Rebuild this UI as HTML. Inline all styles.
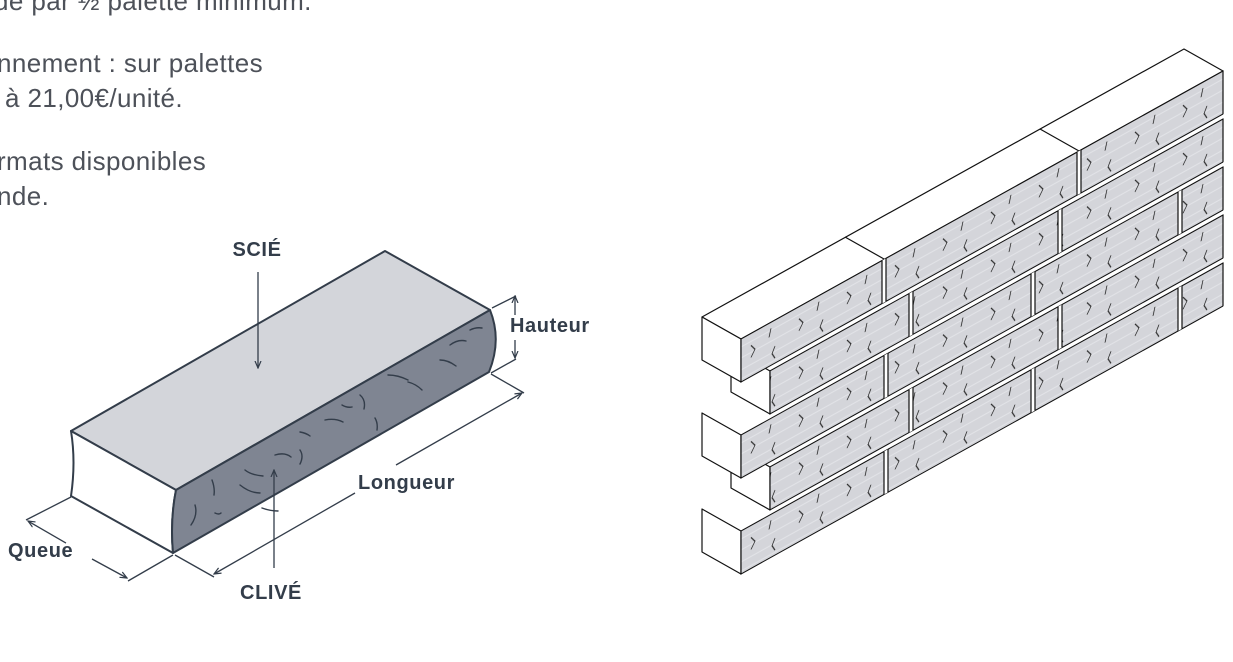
<!DOCTYPE html>
<html><head><meta charset="utf-8"><style>
html,body{margin:0;padding:0;background:#fff;width:1233px;height:662px;overflow:hidden}
svg{position:absolute;left:0;top:0}
</style></head><body>
<svg width="1233" height="662" viewBox="0 0 1233 662" xmlns="http://www.w3.org/2000/svg">
<defs>
<pattern id="tex" patternUnits="userSpaceOnUse" width="48" height="48">
<rect width="48" height="48" fill="#d4d5da"/>
<path d="M0,8h48M0,19h48M0,31h48M0,40h48" stroke="#e2e3e7" stroke-width="1.2"/>
<path d="M10,12l4,6l-4,6" fill="none" stroke="#222" stroke-width="0.9"/>
<path d="M30,6l-2,8M34,26l-3,6l3,6" fill="none" stroke="#222" stroke-width="0.9"/>
</pattern>
<marker id="ah" markerWidth="8" markerHeight="8" refX="7" refY="4" orient="auto" markerUnits="userSpaceOnUse">
<path d="M0,1 L7,4 L0,7" fill="none" stroke="#333d4a" stroke-width="1.2"/>
</marker>
</defs>

<g font-family="Liberation Sans, sans-serif" font-size="26" fill="#4d5159" letter-spacing="0.4">
<text x="-6" y="10">de par ½ palette minimum.</text>
<text x="-3" y="72">nnement : sur palettes</text>
<text x="5" y="107">à 21,00€/unité.</text>
<text x="-3" y="170">rmats disponibles</text>
<text x="-3" y="205">nde.</text>
</g>

<!-- Stone block -->
<g stroke="#333d4a" stroke-width="2" stroke-linejoin="round">
<path d="M71,431 L385,251 L490,310 L176,490 Z" fill="#d3d5da"/>
<path d="M71,431 L176,490 Q170,520 173,553 L71,496 Q76,462 71,431 Z" fill="#fff"/>
<path d="M176,490 L490,310 Q502,340 489,372 L173,553 Q170,520 176,490 Z" fill="#7f8592"/>
</g>
<g stroke="#333d4a" stroke-width="1.4" fill="none" stroke-linecap="round">
<path d="M450,345 q8,-6 16,-4 M470,330 q6,-3 12,-2 M440,360 q8,0 16,6 M388,375 q10,0 20,5 M360,395 q6,5 4,14 M408,382 q8,2 14,8 M342,405 q5,3 10,2 M325,420 q10,-2 18,2 M300,432 q6,1 10,4 M275,455 q10,-3 16,2 M245,470 q6,5 18,6 M240,485 q10,8 20,8 M212,480 q3,8 2,15 M195,505 q3,10 -4,20 M215,513 q4,2 6,0 M262,508 q8,3 16,3 M300,450 q4,6 0,14 M375,418 q3,5 2,12"/>
</g>
<g stroke="#333d4a" stroke-width="1.3" fill="none">
<line x1="258" y1="272" x2="258" y2="368" marker-end="url(#ah)"/>
<line x1="274" y1="568" x2="274" y2="470" marker-end="url(#ah)"/>
<line x1="492" y1="308" x2="516" y2="296"/>
<line x1="491" y1="373" x2="516" y2="359"/>
<line x1="515" y1="315" x2="515" y2="296" marker-end="url(#ah)"/>
<line x1="515" y1="340" x2="515" y2="358" marker-end="url(#ah)"/>
<line x1="491" y1="374" x2="524" y2="393"/>
<line x1="175" y1="555" x2="214" y2="577"/>
<line x1="355" y1="493" x2="214" y2="574" marker-end="url(#ah)"/>
<line x1="396" y1="465" x2="522" y2="393" marker-end="url(#ah)"/>
<line x1="173" y1="555" x2="128" y2="581"/>
<line x1="71" y1="497" x2="26" y2="520"/>
<line x1="66" y1="543" x2="28" y2="521" marker-end="url(#ah)"/>
<line x1="92" y1="559" x2="127" y2="578" marker-end="url(#ah)"/>
</g>
<g font-family="Liberation Sans, sans-serif" font-size="20" font-weight="bold" fill="#333d4a" letter-spacing="0.6">
<text x="257" y="256" text-anchor="middle">SCIÉ</text>
<text x="510" y="332">Hauteur</text>
<text x="358" y="489">Longueur</text>
<text x="8" y="557">Queue</text>
<text x="271" y="599" text-anchor="middle">CLIVÉ</text>
</g>

<!-- Wall -->
<g stroke="#111" stroke-width="1.2" stroke-linejoin="round">
<path d="M731,349 L770,371 L770,414 L731,392 Z" fill="#fff"/>
<path d="M731,445 L770,467 L770,510 L731,488 Z" fill="#fff"/>
<g transform="matrix(1,-0.556,0,1,741,339)">
<rect x="29" y="48" width="453" height="43" fill="url(#tex)"/>
<rect x="29" y="144" width="453" height="43" fill="url(#tex)"/>
<path d="M170,48v43M319,48v43M170,144v43M319,144v43" stroke="#fff" stroke-width="4"/>
<path d="M168,48v43M172,48v43M317,48v43M321,48v43M168,144v43M172,144v43M317,144v43M321,144v43"/>
</g>
<path d="M702,317 L741,339 L1223,71 L1184,49 Z" fill="#fff"/>
<path d="M845,237 L884,259 M1040,129 L1079,151" fill="none"/>
<path d="M702,317 L741,339 L741,382 L702,360 Z" fill="#fff"/>
<path d="M702,413 L741,435 L741,478 L702,456 Z" fill="#fff"/>
<path d="M702,509 L741,531 L741,574 L702,552 Z" fill="#fff"/>
<g transform="matrix(1,-0.556,0,1,741,339)">
<rect x="0" y="0" width="482" height="43" fill="url(#tex)"/>
<rect x="0" y="96" width="482" height="43" fill="url(#tex)"/>
<rect x="0" y="192" width="482" height="43" fill="url(#tex)"/>
<path d="M143,0v43M338,0v43M145,96v43M292,96v43M439,96v43M145,192v43M292,192v43M439,192v43" stroke="#fff" stroke-width="4"/>
<path d="M141,0v43M145,0v43M336,0v43M340,0v43M143,96v43M147,96v43M290,96v43M294,96v43M437,96v43M441,96v43M143,192v43M147,192v43M290,192v43M294,192v43M437,192v43M441,192v43"/>
</g>
</g>
</svg>
</body></html>
